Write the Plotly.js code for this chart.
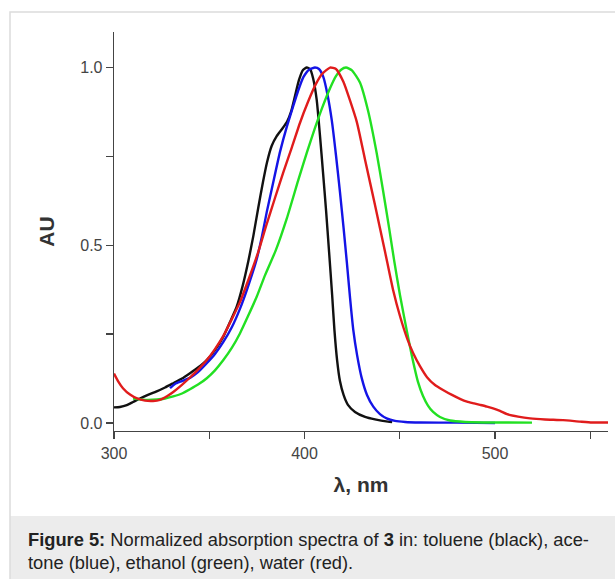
<!DOCTYPE html>
<html><head><meta charset="utf-8">
<script src="https://cdn.plot.ly/plotly-3.0.1.min.js"></script>
<style>html,body{margin:0;padding:0;background:#fff}#chart{width:615px;height:579px}</style>
</head><body><div id="chart"></div>
<script>
// toluene (black)
const tolueneX = [300, 303.1, 306.7, 310.0, 313.6, 317.8, 322.4, 326.8, 331.1, 335.7, 339.9, 344.1, 348.7, 353.0, 357.4, 360.9, 364.4, 367.5, 370.5, 373.1, 375.7, 378.2, 380.3, 382.8, 385.4, 388.2, 390.8, 392.9, 395.0, 397.1, 399.2, 401.2, 402.9, 404.5, 406.4, 408.1, 409.7, 411.3, 412.9, 414.5, 415.7, 417.1, 418.6, 420.5, 422.8, 426.5, 431.8, 437.0, 443.8, 446.0];
const tolueneY = [0.044, 0.045, 0.050, 0.059, 0.069, 0.079, 0.089, 0.100, 0.112, 0.125, 0.140, 0.156, 0.177, 0.205, 0.243, 0.284, 0.327, 0.385, 0.455, 0.525, 0.605, 0.678, 0.733, 0.780, 0.807, 0.827, 0.847, 0.875, 0.920, 0.965, 0.993, 1.0, 0.996, 0.970, 0.909, 0.810, 0.706, 0.599, 0.481, 0.360, 0.262, 0.177, 0.118, 0.079, 0.051, 0.031, 0.017, 0.010, 0.004, 0.003];
// acetone (blue)
const acetoneX = [329.4, 332.0, 335.7, 339.9, 344.1, 348.7, 353.0, 357.4, 361.9, 366.1, 370.3, 374.9, 377.7, 380.2, 383.5, 387.1, 390.8, 394.1, 396.6, 399.4, 402.4, 405.5, 407.6, 409.9, 412.1, 414.3, 416.5, 418.6, 420.5, 422.2, 423.9, 425.6, 427.6, 430.0, 432.8, 436.1, 439.6, 443.1, 447.5, 452.8, 460.6, 480, 500];
const acetoneY = [0.098, 0.110, 0.118, 0.127, 0.143, 0.168, 0.194, 0.228, 0.270, 0.321, 0.383, 0.461, 0.526, 0.594, 0.675, 0.762, 0.835, 0.892, 0.934, 0.973, 0.994, 1.0, 0.996, 0.973, 0.923, 0.852, 0.754, 0.650, 0.549, 0.453, 0.352, 0.262, 0.191, 0.127, 0.079, 0.046, 0.025, 0.013, 0.006, 0.003, 0.0015, 0.001, 0.0];
// ethanol (green)
const ethanolX = [310.0, 316.3, 322.6, 326.8, 331.1, 335.7, 339.9, 344.1, 348.7, 353.0, 357.4, 361.9, 366.1, 370.3, 374.9, 379.3, 385.0, 390.8, 396.6, 401.3, 405.5, 409.2, 413.4, 416.5, 419.2, 421.8, 424.9, 429.1, 433.3, 437.9, 441.2, 444.4, 447.0, 450.1, 453.6, 456.4, 459.6, 462.2, 464.8, 467.5, 471.1, 476.4, 484.3, 500, 519.4];
const ethanolY = [0.069, 0.065, 0.066, 0.069, 0.075, 0.083, 0.095, 0.108, 0.126, 0.148, 0.177, 0.212, 0.252, 0.300, 0.355, 0.416, 0.487, 0.577, 0.681, 0.762, 0.830, 0.886, 0.942, 0.976, 0.994, 1.0, 0.992, 0.958, 0.880, 0.759, 0.655, 0.549, 0.459, 0.360, 0.262, 0.188, 0.115, 0.076, 0.049, 0.031, 0.017, 0.007, 0.003, 0.0015, 0.001];
// water (red)
const waterX = [300, 302.1, 304.7, 308.4, 312.1, 316.3, 320.5, 324.1, 327.8, 331.1, 335.2, 339.9, 344.1, 348.7, 353.0, 357.4, 361.9, 366.1, 370.9, 375.7, 379.8, 384.5, 388.9, 393.4, 397.6, 401.8, 406.0, 409.2, 413.4, 416.5, 420.4, 427.4, 431.8, 437.0, 442.3, 446.5, 450.1, 453.8, 457.0, 460.6, 464.3, 468.5, 472.7, 477.4, 481.6, 485.3, 489.0, 492.1, 495.8, 499.0, 502.6, 506.3, 512.1, 518.4, 526.2, 535.7, 544.6, 550.9, 559.3];
const waterY = [0.139, 0.118, 0.098, 0.080, 0.069, 0.063, 0.062, 0.065, 0.075, 0.087, 0.105, 0.128, 0.150, 0.177, 0.208, 0.245, 0.293, 0.340, 0.408, 0.481, 0.554, 0.633, 0.706, 0.776, 0.844, 0.903, 0.954, 0.982, 1.0, 0.996, 0.960, 0.848, 0.740, 0.613, 0.481, 0.374, 0.301, 0.239, 0.197, 0.160, 0.129, 0.107, 0.093, 0.079, 0.068, 0.060, 0.055, 0.051, 0.046, 0.041, 0.034, 0.025, 0.018, 0.013, 0.010, 0.008, 0.004, 0.0015, 0.0015];

const xTickVals = [300, 400, 500];
const xTickText = ['300', '400', '500'];
const yTickVals = [0, 0.5, 1.0];
const yTickText = ['0.0', '0.5', '1.0'];

const captionLine1 = '<b>Figure 5:</b> Normalized absorption spectra of <b>3</b> in: toluene (black), ace-';
const captionLine2 = 'tone (blue), ethanol (green), water (red).';

const series = [
  {name: 'toluene', x: tolueneX, y: tolueneY, color: '#111111'},
  {name: 'acetone', x: acetoneX, y: acetoneY, color: '#1414e6'},
  {name: 'ethanol', x: ethanolX, y: ethanolY, color: '#22e022'},
  {name: 'water', x: waterX, y: waterY, color: '#e01c1c'}
];
const traces = series.map(s => ({
  type: 'scatter', mode: 'lines', name: s.name, x: s.x, y: s.y,
  line: {color: s.color, width: 2.4, shape: 'spline', smoothing: 0.5},
  hoverinfo: 'skip'
}));

// pixel helpers for decoration placement (plot area: left 114, width 494, top 32, height 399)
const PL = 114, PW = 494, PT = 32, PH = 399;
const px = X => (X - PL) / PW;
const py = Y => (PT + PH - Y) / PH;

const font = 'Liberation Sans, Arial, Helvetica, sans-serif';
const layout = {
  width: 615, height: 579,
  margin: {l: PL, r: 615 - PL - PW, t: PT, b: 579 - PT - PH},
  paper_bgcolor: '#ffffff', plot_bgcolor: '#ffffff',
  showlegend: false,
  font: {family: font, color: '#444'},
  xaxis: {
    range: [300, 559.3], tickmode: 'array', tickvals: xTickVals, ticktext: xTickText,
    ticks: 'outside', ticklen: 7, tickwidth: 1.3, tickcolor: '#444',
    minor: {tickmode: 'array', tickvals: [350, 450, 550], ticks: 'outside', ticklen: 7, tickwidth: 1.3, tickcolor: '#444'},
    showline: true, linecolor: '#444', linewidth: 1.3, showgrid: false, zeroline: false,
    tickfont: {size: 16, color: '#444', family: font},
    title: {text: '<b>λ, nm</b>', font: {size: 21, color: '#333', family: font}, standoff: 16}
  },
  yaxis: {
    range: [-0.0225, 1.1], tickmode: 'array', tickvals: yTickVals, ticktext: yTickText,
    ticks: 'outside', ticklen: 7, tickwidth: 1.3, tickcolor: '#444',
    minor: {tickmode: 'array', tickvals: [0.25, 0.75], ticks: 'outside', ticklen: 7, tickwidth: 1.3, tickcolor: '#444'},
    showline: true, linecolor: '#444', linewidth: 1.3, showgrid: false, zeroline: false,
    tickfont: {size: 16, color: '#444', family: font},
    title: {text: '<b>AU</b>', font: {size: 21, color: '#333', family: font}, standoff: 20}
  },
  shapes: [
    {type: 'rect', xref: 'paper', yref: 'paper', x0: px(10), x1: px(620), y0: py(516), y1: py(585), fillcolor: '#ececec', line: {width: 0}, layer: 'below'},
    {type: 'rect', xref: 'paper', yref: 'paper', x0: px(10), x1: px(620), y0: py(585), y1: py(12), fillcolor: 'rgba(0,0,0,0)', line: {color: '#dcdcdc', width: 1.5}, layer: 'below'}
  ],
  annotations: [
    {xref: 'paper', yref: 'paper', x: px(26), y: py(539), xanchor: 'left', yanchor: 'middle', showarrow: false, align: 'left', text: captionLine1, font: {size: 18.3, color: '#222', family: font}},
    {xref: 'paper', yref: 'paper', x: px(26), y: py(562), xanchor: 'left', yanchor: 'middle', showarrow: false, align: 'left', text: captionLine2, font: {size: 18.3, color: '#222', family: font}}
  ]
};
Plotly.newPlot('chart', traces, layout, {staticPlot: true, displayModeBar: false});
</script>
</body></html>
